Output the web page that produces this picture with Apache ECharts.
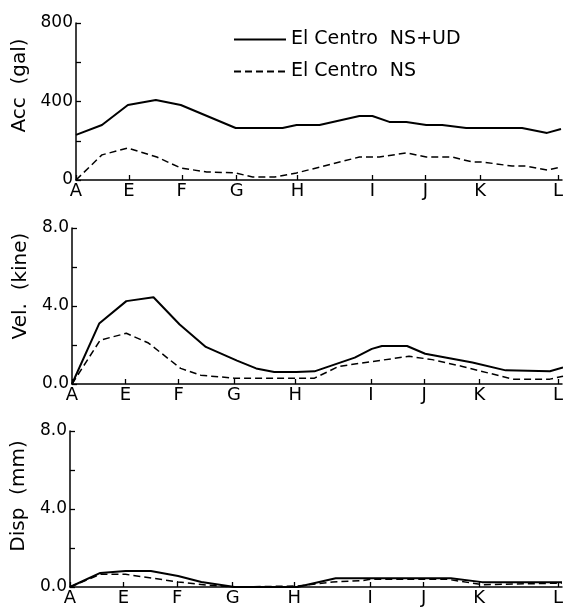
<!DOCTYPE html>
<html>
<head>
<meta charset="utf-8">
<script src="https://cdn.jsdelivr.net/npm/echarts@6/dist/echarts.min.js"></script>
<style>
  html, body { margin: 0; padding: 0; background: #fff; }
  #chart { width: 567px; height: 614px; }
</style>
</head>
<body>
<div id="chart"></div>
<script>
// station positions along the profile (common x scale for all panels)
var stationNames = ['A', 'E', 'F', 'G', 'H', 'I', 'J', 'K', 'L'];
var stationPos = [0, 53, 106, 161, 222, 297, 350, 405, 483];
var xMax = 487;

var legendNames = ['El Centro  NS+UD', 'El Centro  NS'];

// Acc (gal)
var accUdX = [0, 26, 52, 80, 105, 160, 207, 221, 244, 284, 297, 314, 331, 351, 367, 391, 447, 472, 486];
var accUdY = [230, 280, 382, 408, 382, 265, 265, 280, 280, 326, 326, 296, 296, 280, 280, 265, 265, 240, 260];
var accNsX = [0, 26, 52, 81, 105, 131, 160, 177, 199, 221, 284, 304, 331, 351, 377, 397, 407, 437, 451, 472, 486];
var accNsY = [0, 128, 163, 117, 61, 41, 36, 15, 15, 36, 117, 117, 138, 117, 117, 92, 92, 71, 71, 51, 66];

// Vel (kine)
var velUdX = [0, 27, 54, 81, 107, 133, 164, 183, 201, 223, 241, 281, 298, 308, 333, 351, 398, 431, 475, 488];
var velUdY = [0, 3.1, 4.25, 4.45, 3.05, 1.9, 1.2, 0.8, 0.62, 0.62, 0.65, 1.35, 1.8, 1.95, 1.95, 1.55, 1.1, 0.7, 0.65, 0.85];
var velNsX = [0, 28, 54, 76, 108, 128, 161, 211, 241, 265, 298, 335, 358, 388, 438, 475, 488];
var velNsY = [0, 2.25, 2.6, 2.1, 0.8, 0.45, 0.3, 0.3, 0.3, 0.9, 1.15, 1.42, 1.25, 0.9, 0.25, 0.25, 0.4];

// Disp (mm)
var dispUdX = [0, 30, 55, 80, 107, 130, 163, 225, 263, 298, 353, 377, 408, 487];
var dispUdY = [0, 0.72, 0.82, 0.82, 0.56, 0.26, 0, 0, 0.45, 0.45, 0.45, 0.45, 0.25, 0.25];
var dispNsX = [0, 30, 55, 107, 135, 163, 225, 260, 290, 298, 353, 373, 408, 487];
var dispNsY = [0, 0.65, 0.65, 0.26, 0.1, 0, 0.05, 0.26, 0.33, 0.4, 0.4, 0.4, 0.12, 0.2];

function pairs(xs, ys) {
  return xs.map(function(x, i) { return [x, ys[i]]; });
}

var FONT = 'DejaVu Sans';
var INK = '#000';

var chart = echarts.init(document.getElementById('chart'));

var grids = [
  { left: 76, right: 5, top: 23, height: 157 },
  { left: 72, right: 5, top: 228, height: 156 },
  { left: 70, right: 5, top: 431, height: 156 }
];

function makeX(idx) {
  return {
    type: 'value',
    gridIndex: idx,
    min: 0,
    max: xMax,
    axisLine: { lineStyle: { color: INK, width: 1.5 } },
    axisTick: {
      inside: true,
      length: 5,
      customValues: stationPos,
      lineStyle: { color: INK, width: 1.3 }
    },
    axisLabel: {
      customValues: stationPos,
      margin: 2,
      color: INK,
      fontFamily: FONT,
      fontSize: 18,
      formatter: function(v) {
        var i = stationPos.indexOf(v);
        return i >= 0 ? stationNames[i] : '';
      }
    },
    splitLine: { show: false }
  };
}

// shift moves the rotated axis name up along the axis
function makeY(idx, max, step, name, digits, shift, gap) {
  return {
    type: 'value',
    gridIndex: idx,
    min: 0,
    max: max,
    interval: step,
    name: name,
    nameLocation: 'middle',
    nameGap: gap,
    nameTextStyle: {
      color: INK, fontFamily: FONT, fontSize: 20,
      padding: [0, 0, 0, shift]
    },
    axisLine: { show: true, lineStyle: { color: INK, width: 1.5 } },
    axisTick: { inside: true, length: 5, lineStyle: { color: INK, width: 1.3 } },
    axisLabel: {
      margin: 3,
      color: INK,
      fontFamily: FONT,
      fontSize: 17,
      formatter: function(v) {
        if (Math.abs(v % (step * 2)) > 1e-9) return '';
        return v.toFixed(digits);
      }
    },
    splitLine: { show: false }
  };
}

function line(name, idx, data, dashed) {
  return {
    name: name,
    type: 'line',
    xAxisIndex: idx,
    yAxisIndex: idx,
    data: data,
    symbol: 'none',
    silent: true,
    itemStyle: { color: INK },
    lineStyle: dashed
      ? { color: INK, width: 1.5, type: [7, 4] }
      : { color: INK, width: 2 }
  };
}

chart.setOption({
  animation: false,
  backgroundColor: '#fff',
  grid: grids,
  legend: {
    data: legendNames,
    orient: 'vertical',
    left: 228,
    top: 25,
    itemGap: 13,
    itemWidth: 52,
    itemHeight: 14,
    selectedMode: false,
    itemStyle: { opacity: 0 },
    textStyle: { color: INK, fontFamily: FONT, fontSize: 19 }
  },
  xAxis: [makeX(0), makeX(1), makeX(2)],
  yAxis: [
    makeY(0, 800, 200, 'Acc  (gal)', 0, 32, 43),
    makeY(1, 8, 2, 'Vel.  (kine)', 1, 40, 40),
    makeY(2, 8, 2, 'Disp  (mm)', 1, 26, 40)
  ],
  series: [
    line(legendNames[0], 0, pairs(accUdX, accUdY), false),
    line(legendNames[1], 0, pairs(accNsX, accNsY), true),
    line(legendNames[0], 1, pairs(velUdX, velUdY), false),
    line(legendNames[1], 1, pairs(velNsX, velNsY), true),
    line(legendNames[0], 2, pairs(dispUdX, dispUdY), false),
    line(legendNames[1], 2, pairs(dispNsX, dispNsY), true)
  ]
});
</script>
</body>
</html>
